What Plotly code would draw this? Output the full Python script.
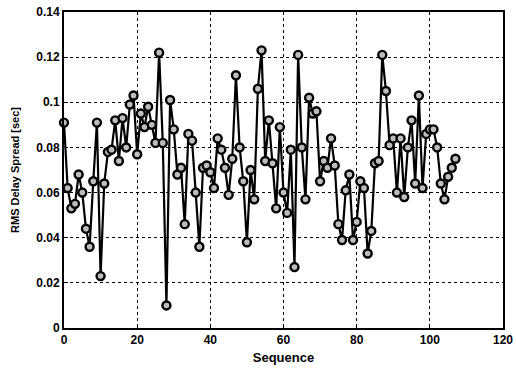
import plotly.graph_objects as go

sequence = list(range(108))
rms_delay = [
    0.091, 0.062, 0.053, 0.055, 0.068, 0.060, 0.044, 0.036, 0.065, 0.091,
    0.023, 0.064, 0.078, 0.079, 0.092, 0.074, 0.093, 0.080, 0.099, 0.103,
    0.077, 0.095, 0.089, 0.098, 0.090, 0.082, 0.122, 0.082, 0.010, 0.101,
    0.088, 0.068, 0.071, 0.046, 0.086, 0.083, 0.060, 0.036, 0.071, 0.072,
    0.069, 0.062, 0.084, 0.079, 0.071, 0.059, 0.075, 0.112, 0.080, 0.065,
    0.038, 0.070, 0.057, 0.106, 0.123, 0.074, 0.092, 0.073, 0.053, 0.089,
    0.060, 0.051, 0.079, 0.027, 0.121, 0.080, 0.057, 0.102, 0.095, 0.096,
    0.065, 0.074, 0.071, 0.084, 0.072, 0.046, 0.039, 0.061, 0.068, 0.039,
    0.047, 0.065, 0.062, 0.033, 0.043, 0.073, 0.074, 0.121, 0.105, 0.081,
    0.084, 0.060, 0.084, 0.058, 0.080, 0.092, 0.064, 0.103, 0.062, 0.086,
    0.088, 0.088, 0.080, 0.064, 0.057, 0.067, 0.071, 0.075,
]
x_ticks = [0, 20, 40, 60, 80, 100, 120]
y_ticks = [0, 0.02, 0.04, 0.06, 0.08, 0.1, 0.12, 0.14]
y_tick_labels = ["0", "0.02", "0.04", "0.06", "0.08", "0.1", "0.12", "0.14"]

fig = go.Figure()
fig.add_trace(go.Scatter(
    x=sequence, y=rms_delay, mode="lines+markers",
    line=dict(color="black", width=2.2),
    marker=dict(symbol="circle", size=8, color="#bdbdbd",
                line=dict(color="black", width=2.4)),
    showlegend=False, cliponaxis=False,
))

font_family = "Liberation Sans, Arial, sans-serif"
axis_common = dict(
    showline=True, linecolor="black", linewidth=2, mirror=True,
    showgrid=True, gridcolor="black", gridwidth=1, griddash="dot",
    ticks="inside", ticklen=4, tickcolor="black", zeroline=False,
    automargin=False,
    tickfont=dict(family=font_family, size=12, color="black", weight="bold"),
)
fig.update_layout(
    width=516, height=368,
    margin=dict(l=64, r=13, t=12, b=40),
    paper_bgcolor="white", plot_bgcolor="white",
    xaxis=dict(range=[0, 120], tickvals=x_ticks,
               title=dict(text="Sequence", standoff=6,
                          font=dict(family=font_family, size=13, color="black", weight="bold")),
               **axis_common),
    yaxis=dict(range=[0, 0.14], tickvals=y_ticks, ticktext=y_tick_labels,
               title=dict(text="RMS Delay Spread [sec]", standoff=14,
                          font=dict(family=font_family, size=11, color="black", weight="bold")),
               **axis_common),
)
fig.write_html("out.html", config={"displayModeBar": False},
               post_script="document.body.style.margin='0';document.body.style.overflow='hidden';")
